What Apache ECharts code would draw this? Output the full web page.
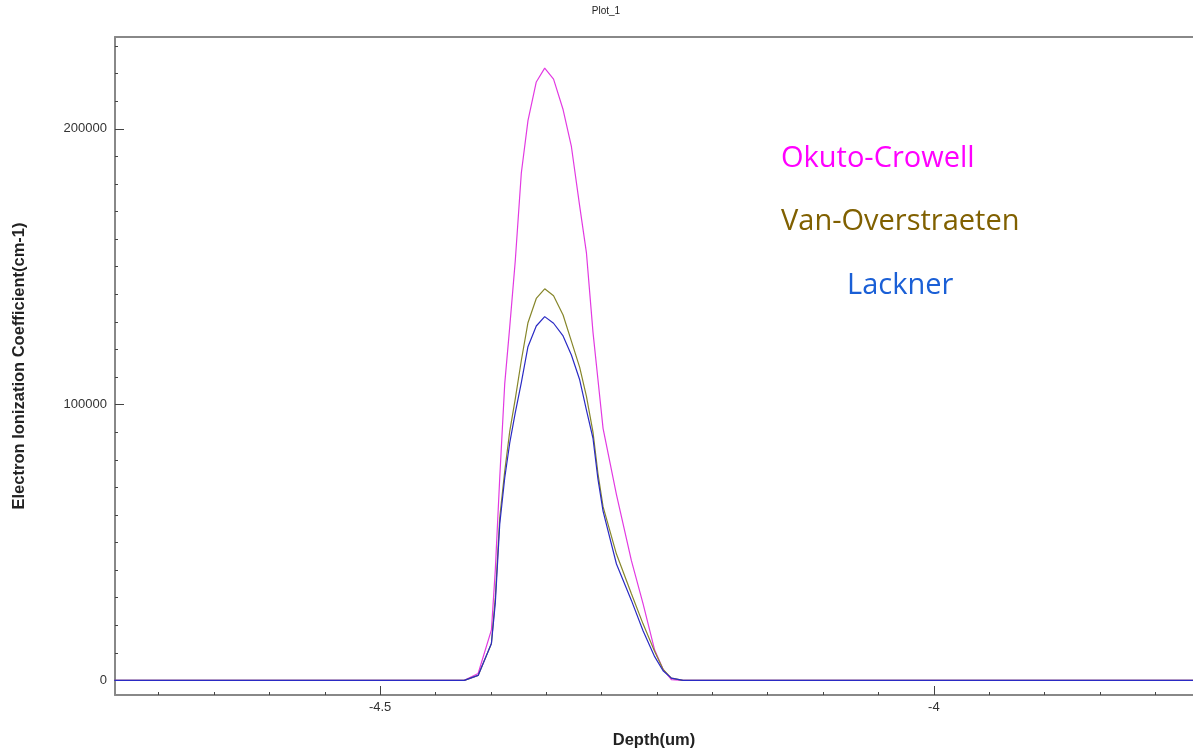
<!DOCTYPE html>
<html>
<head>
<meta charset="utf-8">
<script src="https://cdn.jsdelivr.net/npm/echarts@6/dist/echarts.min.js"></script>
<style>
html,body{margin:0;padding:0;background:#fff;}
#chart{width:1193px;height:754px;}
</style>
</head>
<body>
<div id="chart"></div>
<script>
// Depth (um) nodes shared by the three curves
const depth = [-4.74, -4.424, -4.4115, -4.3995, -4.396, -4.392, -4.3875, -4.383, -4.378, -4.3725, -4.3665, -4.359, -4.3514, -4.3434, -4.3348, -4.3273, -4.3198, -4.3137, -4.3078, -4.3033, -4.2987, -4.2866, -4.2731, -4.2626, -4.2521, -4.2445, -4.237, -4.2265, -3.76];
const okutoCrowell = [0, 0, 2500, 18300, 40000, 73400, 107500, 128000, 152000, 184000, 203000, 217000, 222000, 218000, 207000, 193600, 172000, 155000, 126300, 109000, 91400, 67400, 43400, 27800, 11000, 4000, 300, 0, 0];
const vanOverstraeten = [0, 0, 1800, 13400, 30000, 59000, 75800, 90200, 102000, 116000, 129700, 138500, 142000, 139500, 132500, 123000, 113500, 103000, 90000, 75000, 63000, 45800, 31400, 20500, 10500, 4000, 800, 0, 0];
const lackner = [0, 0, 1800, 13400, 28000, 56600, 73400, 86000, 97000, 108000, 121000, 128500, 131900, 129500, 124900, 118000, 109000, 98000, 87800, 73000, 61400, 42200, 29000, 18000, 8600, 3500, 800, 0, 0];

const seriesNames = ['Okuto-Crowell', 'Van-Overstraeten', 'Lackner'];
const xMajorTicks = [-4.5, -4];
const xMinorTicks = [-4.70, -4.65, -4.60, -4.55, -4.45, -4.40, -4.35, -4.30, -4.25, -4.20, -4.15, -4.10, -4.05, -3.95, -3.90, -3.85, -3.80];
const yMajorTicks = [0, 100000, 200000];
const yMinorTicks = [10000, 20000, 30000, 40000, 50000, 60000, 70000, 80000, 90000, 110000, 120000, 130000, 140000, 150000, 160000, 170000, 180000, 190000, 210000, 220000, 230000];

const X_MIN = -4.7394, X_MAX = -3.766;
const Y_MIN = -5300, Y_MAX = 233300;

function pairs(xs, ys) { return xs.map((x, i) => [x, ys[i]]); }

const chart = echarts.init(document.getElementById('chart'), null, {renderer: 'canvas'});
const axisGrey = '#888888';
const tickColor = '#444444';

chart.setOption({
  animation: false,
  backgroundColor: '#ffffff',
  grid: {left: 115, top: 37, right: -2, bottom: 55, containLabel: false},
  xAxis: [
    {
      type: 'value', position: 'bottom', min: X_MIN, max: X_MAX,
      name: 'Depth(um)', nameLocation: 'middle', nameGap: 37,
      nameTextStyle: {fontFamily: 'Liberation Sans', fontWeight: 'bold', fontSize: 16.5, color: '#222'},
      axisLine: {show: true, onZero: false, lineStyle: {color: axisGrey, width: 2}},
      axisTick: {show: true, inside: true, length: 9, customValues: xMajorTicks, lineStyle: {color: tickColor, width: 1}},
      axisLabel: {show: true, customValues: xMajorTicks, margin: 6, fontFamily: 'Liberation Sans', fontSize: 13, color: '#333', formatter: v => String(v)},
      splitLine: {show: false}
    },
    {
      type: 'value', position: 'bottom', min: X_MIN, max: X_MAX,
      axisLine: {show: false, onZero: false},
      axisTick: {show: true, inside: true, length: 3, customValues: xMinorTicks, lineStyle: {color: tickColor, width: 1}},
      axisLabel: {show: false},
      splitLine: {show: false}
    },
    {
      type: 'value', position: 'top', min: X_MIN, max: X_MAX,
      axisLine: {show: true, onZero: false, lineStyle: {color: axisGrey, width: 2}},
      axisTick: {show: false}, axisLabel: {show: false}, splitLine: {show: false}
    }
  ],
  yAxis: [
    {
      type: 'value', position: 'left', min: Y_MIN, max: Y_MAX,
      name: 'Electron Ionization Coefficient(cm-1)', nameLocation: 'middle', nameGap: 87, nameRotate: 90,
      nameTextStyle: {fontFamily: 'Liberation Sans', fontWeight: 'bold', fontSize: 16.5, color: '#222'},
      axisLine: {show: true, onZero: false, lineStyle: {color: axisGrey, width: 2}},
      axisTick: {show: true, inside: true, length: 9, customValues: yMajorTicks, lineStyle: {color: tickColor, width: 1}},
      axisLabel: {show: true, customValues: yMajorTicks, margin: 8, fontFamily: 'Liberation Sans', fontSize: 13, color: '#333', formatter: v => String(v)},
      splitLine: {show: false}
    },
    {
      type: 'value', position: 'left', min: Y_MIN, max: Y_MAX,
      axisLine: {show: false, onZero: false},
      axisTick: {show: true, inside: true, length: 3, customValues: yMinorTicks, lineStyle: {color: tickColor, width: 1}},
      axisLabel: {show: false},
      splitLine: {show: false}
    }
  ],
  series: [
    {name: seriesNames[0], type: 'line', data: pairs(depth, okutoCrowell), showSymbol: false, lineStyle: {color: '#e23ae2', width: 1.2}, itemStyle: {color: '#e23ae2'}},
    {name: seriesNames[1], type: 'line', data: pairs(depth, vanOverstraeten), showSymbol: false, lineStyle: {color: '#86862a', width: 1.2}, itemStyle: {color: '#86862a'}},
    {name: seriesNames[2], type: 'line', data: pairs(depth, lackner), showSymbol: false, lineStyle: {color: '#2a2ac4', width: 1.2}, itemStyle: {color: '#2a2ac4'}}
  ],
  graphic: [
    {type: 'text', x: 606, y: 11, style: {text: 'Plot_1', font: '10px "Liberation Sans"', fill: '#222', textAlign: 'center', textVerticalAlign: 'middle'}},
    {type: 'text', x: 781, y: 159, style: {text: seriesNames[0], font: '29px "Open Sans"', fill: '#ff00ff', textAlign: 'left', textVerticalAlign: 'middle'}},
    {type: 'text', x: 781, y: 222, style: {text: seriesNames[1], font: '29px "Open Sans"', fill: '#806000', textAlign: 'left', textVerticalAlign: 'middle'}},
    {type: 'text', x: 847, y: 286, style: {text: seriesNames[2], font: '29px "Open Sans"', fill: '#1a5fd6', textAlign: 'left', textVerticalAlign: 'middle'}}
  ]
});
</script>
</body>
</html>
